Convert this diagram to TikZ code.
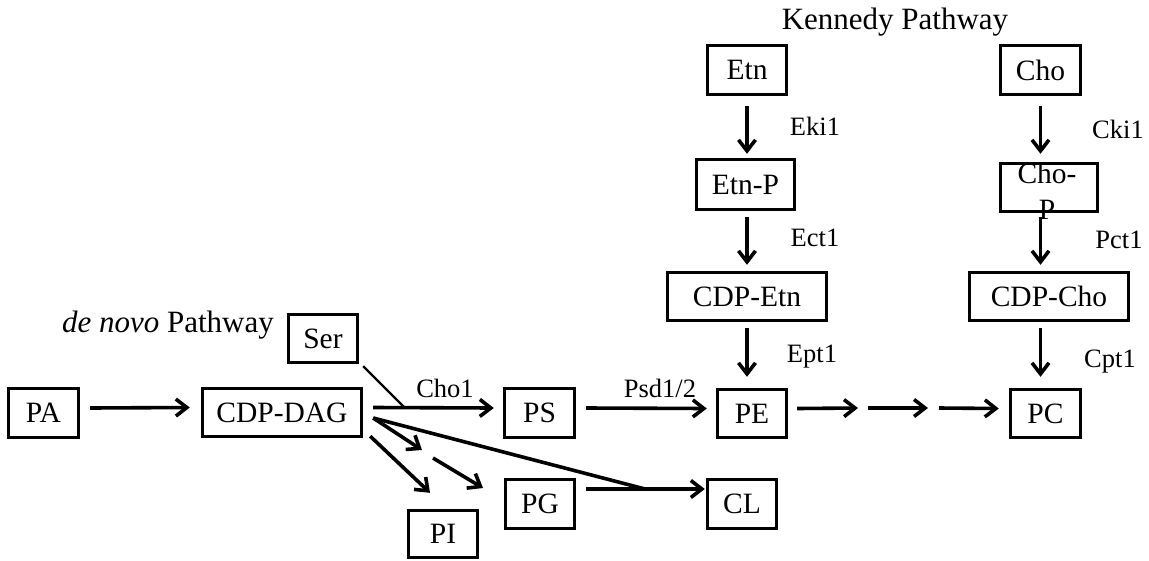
\documentclass[tikz,border=0pt]{standalone}
\usepackage{fontspec}
\setmainfont{Liberation Serif}
\usetikzlibrary{arrows.meta}
\tikzset{
  box/.style={draw, line width=3.4pt, inner sep=0pt, font=\fontsize{29.5}{34}\selectfont},
  lbl/.style={font=\fontsize{26.5}{30}\selectfont, inner sep=0pt, anchor=base},
  ttl/.style={font=\fontsize{31}{36}\selectfont, inner sep=0pt, anchor=base},
  arr/.style={line width=3.6pt, -{Straight Barb[length=11pt,width=17pt,line width=3.6pt]}},
  ln/.style={line width=3.6pt},
  thinln/.style={line width=2.2pt}
}
\begin{document}
\begin{tikzpicture}[x=1pt,y=-1pt]
\useasboundingbox[fill=white] (0,0) rectangle (1149,560);
% boxes
\node[box, minimum width=70, minimum height=49] (PA) at (43.5,413) {PA};
\node[box, minimum width=159, minimum height=48] (CDP) at (282,412.5) {CDP-DAG};
\node[box, minimum width=69, minimum height=48] (Ser) at (323,338.5) {Ser};
\node[box, minimum width=70, minimum height=49] (PS) at (539.5,413) {PS};
\node[box, minimum width=69, minimum height=48] (PE) at (752,413.5) {PE};
\node[box, minimum width=70, minimum height=48] (PC) at (1045.5,413.5) {PC};
\node[box, minimum width=69, minimum height=49] (PG) at (540,504) {PG};
\node[box, minimum width=69, minimum height=49] (CL) at (742,504) {CL};
\node[box, minimum width=69, minimum height=47] (PI) at (443,534) {PI};
\node[box, minimum width=79, minimum height=49] (Etn) at (747,70) {Etn};
\node[box, minimum width=80, minimum height=49] (Cho) at (1040.5,70) {Cho};
\node[box, minimum width=98, minimum height=50] (EtnP) at (745.5,184.5) {Etn-P};
\node[box, minimum width=97, minimum height=48] (ChoP) at (1049,187.5) {};
\node[font=\fontsize{29.5}{36}\selectfont, align=center, inner sep=0pt] (ChoPt) at (1047,191) {Cho-\\P};
\node[box, minimum width=159, minimum height=48] (CDPEtn) at (747,296.5) {CDP-Etn};
\node[box, minimum width=159, minimum height=48] (CDPCho) at (1049,296.5) {CDP-Cho};
% titles and labels
\node[ttl] (kt) at (895,29) {Kennedy Pathway};
\node[ttl] (dt) at (168,332) {\textit{de novo} Pathway};
\node[lbl] (l1) at (445,397) {Cho1};
\node[lbl] (l2) at (660,397) {Psd1/2};
\node[lbl] (l3) at (815,135) {Eki1};
\node[lbl] (l4) at (815,246) {Ect1};
\node[lbl] (l5) at (812,362) {Ept1};
\node[lbl] (l6) at (1118,138) {Cki1};
\node[lbl] (l7) at (1119,248) {Pct1};
\node[lbl] (l8) at (1110,367) {Cpt1};
% coordinates
\coordinate (m1) at (405,408);
\coordinate (m2) at (645,489);
\coordinate (k1) at (858,408);
\coordinate (k2) at (868,408);
\coordinate (k3) at (928,408);
\coordinate (k4) at (939,408);
\coordinate (g1) at (422,450);
\coordinate (g2) at (433,458);
\coordinate (g3) at (483,488);
% de novo connectors
\draw[arr] ([xshift=10pt,yshift=5pt]PA.east) -- ([xshift=-11pt,yshift=5pt]CDP.west);
\draw[arr] ([xshift=10pt,yshift=5pt]CDP.east) -- ([xshift=-9pt,yshift=5pt]PS.west);
\draw[thinln] ([xshift=4pt,yshift=-2pt]Ser.south east) -- (m1);
\draw[arr] ([xshift=10pt,yshift=5pt]PS.east) -- ([xshift=-9pt,yshift=5pt]PE.west);
\draw[arr] ([xshift=9pt,yshift=5pt]PE.east) -- (k1);
\draw[arr] (k2) -- (k3);
\draw[arr] (k4) -- ([xshift=-10pt,yshift=5pt]PC.west);
\draw[ln] ([xshift=10pt,yshift=-5.5pt]CDP.east) -- (m2);
\draw[arr] ([xshift=10pt,yshift=-5.5pt]CDP.east) -- (g1);
\draw[arr] (g2) -- (g3);
\draw[arr] ([xshift=7pt,yshift=2pt]CDP.south east) -- ([xshift=-13pt,yshift=16pt]PI.north);
\draw[arr] ([xshift=10pt,yshift=15pt]PG.east) -- ([xshift=-1pt,yshift=15pt]CL.west);
% Kennedy connectors
\draw[arr] ([yshift=-10pt]Etn.south) -- ([yshift=4pt]Etn.south |- EtnP.north);
\draw[arr] ([yshift=-6pt]Etn.south |- EtnP.south) -- ([yshift=6pt]Etn.south |- CDPEtn.north);
\draw[arr] ([yshift=-6pt]Etn.south |- CDPEtn.south) -- ([yshift=11pt]Etn.south |- PE.north);
\draw[arr] ([yshift=-10pt]Cho.south) -- ([yshift=8pt]Cho.south |- ChoP.north);
\draw[arr] ([yshift=-4pt]Cho.south |- ChoP.south) -- ([yshift=6pt]Cho.south |- CDPCho.north);
\draw[arr] ([yshift=-6pt]Cho.south |- CDPCho.south) -- ([yshift=11pt]Cho.south |- PC.north);
\end{tikzpicture}
\end{document}
